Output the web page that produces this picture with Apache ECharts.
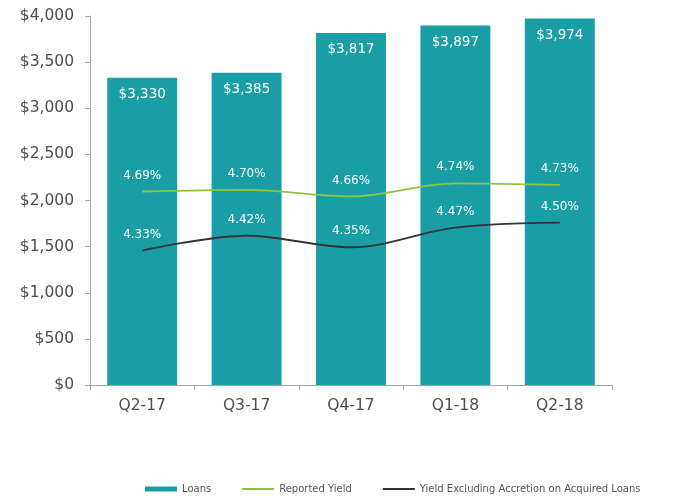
<!DOCTYPE html>
<html>
<head>
<meta charset="utf-8">
<script src="https://cdn.jsdelivr.net/npm/echarts@6/dist/echarts.min.js"></script>
<style>
  html, body { margin: 0; padding: 0; background: #fff; }
  #chart { width: 674px; height: 499px; }
</style>
</head>
<body>
<div id="chart"></div>
<script>
// Quarterly loans ($M) with reported and adjusted yields (%)
const quarters = ['Q2-17', 'Q3-17', 'Q4-17', 'Q1-18', 'Q2-18'];
const loans = [3330, 3385, 3817, 3897, 3974];
const reportedYield = [4.69, 4.70, 4.66, 4.74, 4.73];
const yieldExAccretion = [4.33, 4.42, 4.35, 4.47, 4.50];
const loanTicks = [0, 500, 1000, 1500, 2000, 2500, 3000, 3500, 4000];

const chart = echarts.init(document.getElementById('chart'));
const font = '"DejaVu Sans", Verdana, sans-serif';

const yieldLabel = {
  show: true,
  position: 'top',
  distance: 10,
  color: '#fff',
  fontSize: 12,
  formatter: p => p.value.toFixed(2) + '%'
};

chart.setOption({
  animation: false,
  textStyle: { fontFamily: font },
  grid: { left: 90, top: 16, right: 62, bottom: 114, containLabel: false },
  legend: {
    top: 479,
    left: 140,
    itemGap: 30,
    itemWidth: 32,
    itemHeight: 5,
    textStyle: { fontSize: 10, color: '#555', fontFamily: font },
    data: [
      { name: 'Loans', icon: 'rect' },
      { name: 'Reported Yield', itemStyle: { opacity: 0 } },
      { name: 'Yield Excluding Accretion on Acquired Loans', itemStyle: { opacity: 0 } }
    ]
  },
  xAxis: {
    type: 'category',
    data: quarters,
    axisLine: { lineStyle: { color: '#a6a6a6' } },
    axisTick: { show: true, length: 5, lineStyle: { color: '#a6a6a6' } },
    axisLabel: { color: '#4d4d4d', fontSize: 15.5, margin: 13 }
  },
  yAxis: [
    {
      type: 'value',
      min: loanTicks[0],
      max: loanTicks[loanTicks.length - 1],
      interval: 500,
      axisLine: { show: true, lineStyle: { color: '#a6a6a6' } },
      axisTick: { show: true, length: 5, lineStyle: { color: '#a6a6a6' } },
      splitLine: { show: false },
      axisLabel: {
        color: '#4d4d4d', fontSize: 15.5, margin: 16,
        formatter: v => '$' + v.toLocaleString('en-US')
      }
    },
    {
      type: 'value',
      min: 3.51,
      max: 5.76,
      show: false,
      splitLine: { show: false }
    }
  ],
  series: [
    {
      name: 'Loans',
      type: 'bar',
      data: loans,
      barWidth: '67%',
      itemStyle: { color: '#1a9ea6' },
      label: {
        show: true,
        position: 'insideTop',
        distance: 10,
        color: '#fff',
        fontSize: 13.5,
        formatter: p => '$' + p.value.toLocaleString('en-US')
      },
      z: 1
    },
    {
      name: 'Reported Yield',
      type: 'line',
      yAxisIndex: 1,
      data: reportedYield,
      smooth: 0.35,
      symbol: 'circle',
      symbolSize: 0.01,
      lineStyle: { color: '#8cc63f', width: 1.8 },
      itemStyle: { color: '#8cc63f' },
      label: yieldLabel,
      z: 3
    },
    {
      name: 'Yield Excluding Accretion on Acquired Loans',
      type: 'line',
      yAxisIndex: 1,
      data: yieldExAccretion,
      smooth: 0.35,
      symbol: 'circle',
      symbolSize: 0.01,
      lineStyle: { color: '#333333', width: 1.8 },
      itemStyle: { color: '#333333' },
      label: yieldLabel,
      z: 3
    }
  ]
});
</script>
</body>
</html>
